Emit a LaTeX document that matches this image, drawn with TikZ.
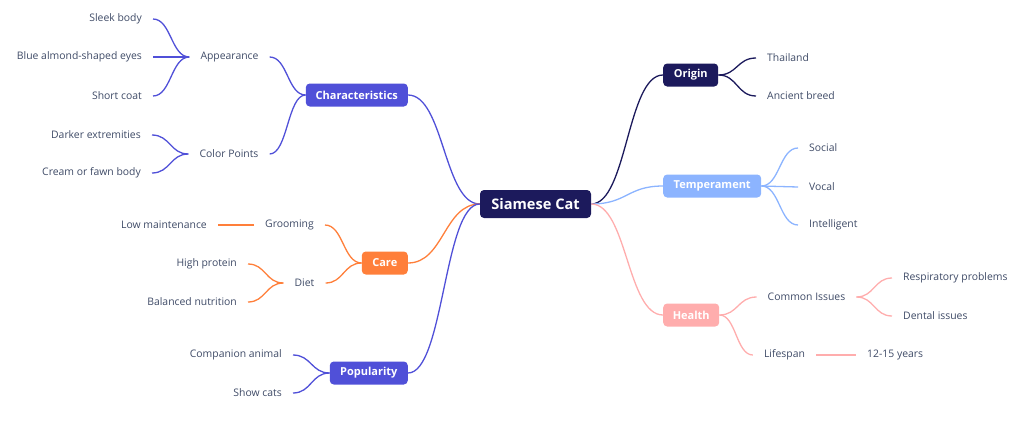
\documentclass[tikz,border=0pt]{standalone}
\usepackage{fontspec}
\setmainfont{Open Sans}
\usetikzlibrary{calc}
\definecolor{txt}{HTML}{3E4A66}
\definecolor{navy}{HTML}{1C1A5C}
\definecolor{violet}{HTML}{5050D8}
\definecolor{orng}{HTML}{FF7F3A}
\definecolor{lblue}{HTML}{8CB4FF}
\definecolor{pinkc}{HTML}{FFADAD}
\newcommand\lnk[3]{\path ($(#2)!.5!(#3)$) coordinate (mid); \draw[link,#1] (#2) .. controls (mid |- #2) and (mid |- #3) .. (#3);}
\begin{document}
\begin{tikzpicture}[x=1pt,y=-1pt,
 leaf/.style={font=\fontsize{10.4}{12}\selectfont, text=txt, inner xsep=11pt, inner ysep=2pt},
 box/.style={fill=#1, text=white, font=\fontsize{11}{13}\selectfont\bfseries, rounded corners=4pt, minimum height=23pt, inner xsep=3pt},
 link/.style={line width=1.3pt}]
\useasboundingbox (0,0) rectangle (1024,444);
% root
\node[box=navy, minimum width=111pt, minimum height=28pt, font=\fontsize{14.6}{17}\selectfont\bfseries] (root) at (535.5,204) {Siamese Cat};
% left branches
\node[box=violet, minimum width=102pt, anchor=east] (char) at (408,95) {Characteristics};
\node[box=orng, minimum width=46pt, anchor=east] (care) at (408,263) {Care};
\node[box=violet, minimum width=78pt, anchor=east] (pop) at (408,373) {Popularity};
% right branches
\node[box=navy, minimum width=55pt, anchor=west] (orig) at (663,75) {Origin};
\node[box=lblue, minimum width=98pt, anchor=west] (temp) at (663,186) {Temperament};
\node[box=pinkc, minimum width=56pt, anchor=west] (health) at (663,315) {Health};
% characteristics
\node[leaf] (app) at (229.5,57) {Appearance};
\node[leaf] (cpts) at (229,154) {Color Points};
\node[leaf, anchor=east] (sleek) at (153,19) {Sleek body};
\node[leaf, anchor=east] (eyes) at (153,57) {Blue almond-shaped eyes};
\node[leaf, anchor=east] (coat) at (153,96) {Short coat};
\node[leaf, anchor=east] (dark) at (152,135) {Darker extremities};
\node[leaf, anchor=east] (cream) at (152,173) {Cream or fawn body};
% care
\node[leaf] (groom) at (289.5,225) {Grooming};
\node[leaf] (diet) at (304.5,283) {Diet};
\node[leaf, anchor=east] (lowm) at (218,225) {Low maintenance};
\node[leaf, anchor=east] (highp) at (248,264) {High protein};
\node[leaf, anchor=east] (bal) at (248,302) {Balanced nutrition};
% popularity
\node[leaf, anchor=east] (comp) at (293,355) {Companion animal};
\node[leaf, anchor=east] (show) at (293,393) {Show cats};
% origin
\node[leaf, anchor=west] (thai) at (756,58) {Thailand};
\node[leaf, anchor=west] (anc) at (756,96) {Ancient breed};
% temperament
\node[leaf, anchor=west] (soc) at (798,148) {Social};
\node[leaf, anchor=west] (voc) at (798,187) {Vocal};
\node[leaf, anchor=west] (intl) at (798,225) {Intelligent};
% health
\node[leaf] (common) at (806.5,297) {Common Issues};
\node[leaf] (life) at (784.5,355) {Lifespan};
\node[leaf, anchor=west] (resp) at (892,278) {Respiratory problems};
\node[leaf, anchor=west] (dent) at (892,316) {Dental issues};
\node[leaf, anchor=west] (years) at (856,355) {12-15 years};
% links: root
\lnk{violet}{root.west}{char.east}
\lnk{orng}{root.west}{care.east}
\lnk{violet}{root.west}{pop.east}
\lnk{navy}{root.east}{orig.west}
\lnk{lblue}{root.east}{temp.west}
\lnk{pinkc}{root.east}{health.west}
% characteristics
\lnk{violet}{char.west}{app.east}
\lnk{violet}{char.west}{cpts.east}
\lnk{violet}{app.west}{sleek.east}
\lnk{violet}{app.west}{eyes.east}
\lnk{violet}{app.west}{coat.east}
\lnk{violet}{cpts.west}{dark.east}
\lnk{violet}{cpts.west}{cream.east}
% care
\lnk{orng}{care.west}{groom.east}
\lnk{orng}{care.west}{diet.east}
\lnk{orng}{groom.west}{lowm.east}
\lnk{orng}{diet.west}{highp.east}
\lnk{orng}{diet.west}{bal.east}
% popularity
\lnk{violet}{pop.west}{comp.east}
\lnk{violet}{pop.west}{show.east}
% origin
\lnk{navy}{orig.east}{thai.west}
\lnk{navy}{orig.east}{anc.west}
% temperament
\lnk{lblue}{temp.east}{soc.west}
\lnk{lblue}{temp.east}{voc.west}
\lnk{lblue}{temp.east}{intl.west}
% health
\lnk{pinkc}{health.east}{common.west}
\lnk{pinkc}{health.east}{life.west}
\lnk{pinkc}{common.east}{resp.west}
\lnk{pinkc}{common.east}{dent.west}
\lnk{pinkc}{life.east}{years.west}
\end{tikzpicture}
\end{document}
